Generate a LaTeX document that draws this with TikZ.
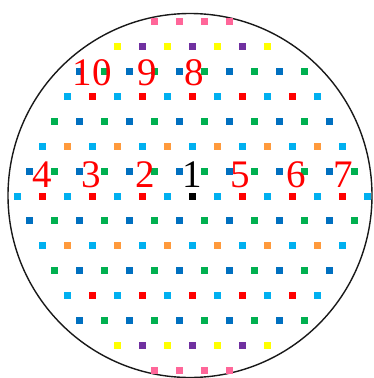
\documentclass[tikz,border=0pt]{standalone}
\usepackage{fontspec}
\setmainfont{Liberation Serif}
\definecolor{pk}{HTML}{FF6699}
\definecolor{yl}{HTML}{FFFF00}
\definecolor{pu}{HTML}{7030A0}
\definecolor{bl}{HTML}{0070C0}
\definecolor{gr}{HTML}{00B050}
\definecolor{lb}{HTML}{00B0F0}
\definecolor{rd}{HTML}{FF0000}
\definecolor{or}{HTML}{FF9A3C}
\definecolor{bk}{HTML}{000000}
\newcommand\sqrow[3]{%
  \foreach \c [count=\i from 0] in {#3}
    \fill[\c] ({#2+25*\i-3.5},{#1-3.5}) rectangle ++(7,7);
}
\tikzset{
  lab/.style={text=red, anchor=base, inner sep=0pt, font=\fontsize{39}{39}\selectfont},
  wafer/.style={draw=black!90, line width=1.4pt}
}
\begin{document}
\begin{tikzpicture}[x=1pt,y=-1pt]
\useasboundingbox (0,0) rectangle (373,378);
\draw[wafer] (190,195.5) circle[radius=182];
\sqrow{21.7}{154.5}{pk,pk,pk,pk}
\sqrow{46.6}{117}{yl,pu,yl,pu,yl,pu,yl}
\sqrow{71.5}{79.5}{bl,gr,bl,gr,bl,gr,bl,gr,bl,gr}
\sqrow{96.4}{67}{lb,rd,lb,rd,lb,rd,lb,rd,lb,rd,lb}
\sqrow{121.3}{54.5}{gr,bl,gr,bl,gr,bl,gr,bl,gr,bl,gr,bl}
\sqrow{146.2}{42}{lb,or,lb,or,lb,or,lb,or,lb,or,lb,or,lb}
\sqrow{171.1}{29.5}{bl,gr,bl,gr,bl,gr,bl,gr,bl,gr,bl,gr,bl,gr}
\sqrow{196}{17}{lb,rd,lb,rd,lb,rd,lb,bk,lb,rd,lb,rd,lb,rd,lb}
\sqrow{220.9}{29.5}{bl,gr,bl,gr,bl,gr,bl,gr,bl,gr,bl,gr,bl,gr}
\sqrow{245.8}{42}{lb,or,lb,or,lb,or,lb,or,lb,or,lb,or,lb}
\sqrow{270.7}{54.5}{gr,bl,gr,bl,gr,bl,gr,bl,gr,bl,gr,bl}
\sqrow{295.6}{67}{lb,rd,lb,rd,lb,rd,lb,rd,lb,rd,lb}
\sqrow{320.5}{79.5}{bl,gr,bl,gr,bl,gr,bl,gr,bl,gr}
\sqrow{345.4}{117}{yl,pu,yl,pu,yl,pu,yl}
\sqrow{370.3}{154.5}{pk,pk,pk,pk}
\node[lab] (l10) at (92,85) {10};
\node[lab] (l9) at (147,85) {9};
\node[lab] (l8) at (194,85) {8};
\node[lab] (l4) at (42,187) {4};
\node[lab] (l3) at (91,187) {3};
\node[lab] (l2) at (145,187) {2};
\node[lab,text=black] (l1) at (192,187) {1};
\node[lab] (l5) at (240,187) {5};
\node[lab] (l6) at (296,187) {6};
\node[lab] (l7) at (343,187) {7};
\end{tikzpicture}
\end{document}
